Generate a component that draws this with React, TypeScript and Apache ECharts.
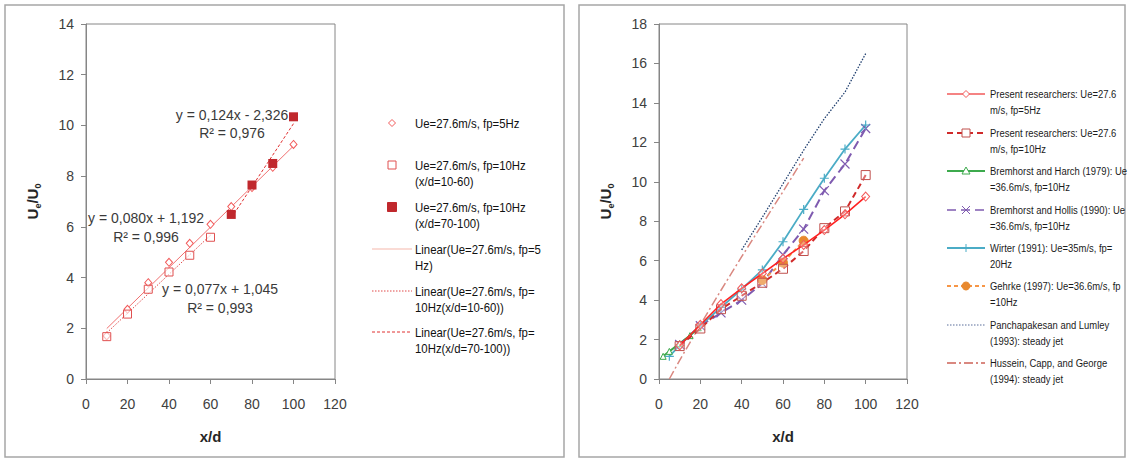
import React, { useEffect, useRef } from "react";
import * as echarts from "echarts";

// ---------- Left chart data ----------
const xd = [10, 20, 30, 40, 50, 60, 70, 80, 90, 100];
const fp5Values = [1.7, 2.75, 3.8, 4.6, 5.35, 6.1, 6.8, 7.55, 8.35, 9.25];
const fp10Low = [[10, 1.67], [20, 2.56], [30, 3.54], [40, 4.22], [50, 4.88], [60, 5.59]];
const fp10High = [[70, 6.49], [80, 7.65], [90, 8.5], [100, 10.34]];
const trend5 = [[10, 1.99], [100, 9.19]];
const trend10Low = [[10, 1.82], [60, 5.67]];
const trend10High = [[70, 6.35], [100, 10.07]];
const equations = [
  ["y = 0,124x - 2,326", "R² = 0,976"],
  ["y = 0,080x + 1,192", "R² = 0,996"],
  ["y = 0,077x + 1,045", "R² = 0,993"],
];
const leftLegendLabels = [
  "Ue=27.6m/s, fp=5Hz",
  "Ue=27.6m/s, fp=10Hz\n(x/d=10-60)",
  "Ue=27.6m/s, fp=10Hz\n(x/d=70-100)",
  "Linear(Ue=27.6m/s, fp=5\nHz)",
  "Linear(Ue=27.6m/s, fp=\n10Hz(x/d=10-60))",
  "Linear(Ue=27.6m/s, fp=\n10Hz(x/d=70-100))",
];

// ---------- Right chart data ----------
const present10 = [1.67, 2.56, 3.54, 4.22, 4.88, 5.59, 6.49, 7.65, 8.5, 10.34];
const bremHarch = [[2, 1.15], [5, 1.4], [10, 1.8], [15, 2.2], [19, 2.6]];
const bremHollis = [[10, 1.75], [20, 2.7], [30, 3.35], [40, 4.0], [50, 4.85], [60, 6.3], [70, 7.6], [80, 9.55], [90, 10.9], [100, 12.7]];
const wirter = [[5, 1.15], [10, 1.7], [20, 2.7], [30, 3.63], [40, 4.55], [50, 5.53], [60, 6.96], [70, 8.6], [80, 10.18], [90, 11.66], [100, 12.88]];
const gehrke = [[50, 5.02], [60, 5.9], [70, 7.01]];
const panchapakesan = [[40, 6.55], [50, 8.2], [60, 9.9], [70, 11.6], [80, 13.2], [90, 14.55], [100, 16.5]];
const hussein = [[5, 0], [10, 0.95], [20, 2.75], [30, 4.5], [40, 6.2], [50, 7.85], [60, 9.5], [70, 11.2]];
const rightLegendLabels = [
  "Present researchers: Ue=27.6\nm/s, fp=5Hz",
  "Present researchers: Ue=27.6\nm/s, fp=10Hz",
  "Bremhorst and Harch (1979): Ue\n=36.6m/s, fp=10Hz",
  "Bremhorst and Hollis (1990): Ue\n=36.6m/s, fp=10Hz",
  "Wirter (1991): Ue=35m/s, fp=\n20Hz",
  "Gehrke (1997): Ue=36.6m/s, fp\n=10Hz",
  "Panchapakesan and Lumley\n(1993): steady jet",
  "Hussein, Capp, and George\n(1994): steady jet",
];

const FONT = "'Liberation Sans', Arial, sans-serif";
const AXIS_GRAY = "#868686";
const LABEL_COLOR = "#404040";

const C = {
  red: "#FF2222",
  redMarker: "#F25A5A",
  darkRed: "#D02A2A",
  darkRedMarker: "#C0504D",
  green: "#3DAA4D",
  purple: "#7F5BB0",
  cyan: "#4BACC6",
  orange: "#F79646",
  orangeMarker: "#E8892E",
  navy: "#1F3E6E",
  rose: "#D98880",
};

const X_SYMBOL = "path://M0,0L10,10M10,0L0,10";
const PLUS_SYMBOL = "path://M5,0L5,10M0,5L10,5";

function xAxisCfg(gridIndex: number) {
  return {
    type: "value",
    gridIndex,
    min: 0,
    max: 120,
    interval: 20,
    name: "x/d",
    nameLocation: "middle",
    nameGap: 50,
    nameTextStyle: { fontFamily: FONT, fontSize: 15, fontWeight: "bold", color: "#262626" },
    axisLine: { show: true, onZero: false, lineStyle: { color: AXIS_GRAY } },
    axisTick: { show: true, length: 5, lineStyle: { color: AXIS_GRAY } },
    splitLine: { show: false },
    axisLabel: { color: LABEL_COLOR, fontFamily: FONT, fontSize: 14, margin: 18 },
  };
}

function yAxisCfg(gridIndex: number, max: number, gap: number) {
  return {
    type: "value",
    gridIndex,
    min: 0,
    max,
    interval: 2,
    name: "{u|U}{s|e}{u|/U}{s|0}",
    nameLocation: "middle",
    nameRotate: 90,
    nameGap: gap,
    nameTextStyle: {
      rich: {
        u: { fontFamily: FONT, fontSize: 15, fontWeight: "bold", color: "#262626", lineHeight: 20 },
        s: { fontFamily: FONT, fontSize: 9, fontWeight: "bold", color: "#262626", lineHeight: 20, verticalAlign: "bottom" },
      },
    },
    axisLine: { show: true, lineStyle: { color: AXIS_GRAY } },
    axisTick: { show: true, length: 5, lineStyle: { color: AXIS_GRAY } },
    splitLine: { show: false },
    axisLabel: { color: LABEL_COLOR, fontFamily: FONT, fontSize: 14, margin: 12 },
  };
}

function textEl(x: number, y: number, text: string, opts: any = {}) {
  return {
    type: "text",
    x,
    y,
    scaleX: opts.scaleX ?? 1,
    silent: true,
    style: {
      text,
      fill: opts.fill ?? "#262626",
      font: opts.font ?? `12px ${FONT}`,
      textAlign: opts.align ?? "left",
      textVerticalAlign: opts.vAlign ?? "top",
      lineHeight: opts.lineHeight ?? 16,
    },
  };
}

function lineEl(x1: number, y1: number, x2: number, y2: number, stroke: string, lineWidth: number, lineDash?: number[]) {
  return {
    type: "line",
    silent: true,
    shape: { x1, y1, x2, y2 },
    style: { stroke, lineWidth, lineDash: lineDash ?? null },
  };
}

function diamondEl(cx: number, cy: number, r: number, stroke: string) {
  return {
    type: "polygon",
    silent: true,
    shape: { points: [[cx, cy - r], [cx + r, cy], [cx, cy + r], [cx - r, cy]] },
    style: { fill: "#fff", stroke, lineWidth: 1 },
  };
}

function buildGraphic() {
  const g: any[] = [];
  // panel frames
  g.push({ type: "rect", silent: true, shape: { x: 5, y: 5, width: 559, height: 452 }, style: { fill: "none", stroke: "#A6A6A6", lineWidth: 1.5 } });
  g.push({ type: "rect", silent: true, shape: { x: 579, y: 5, width: 546, height: 452 }, style: { fill: "none", stroke: "#A6A6A6", lineWidth: 1.5 } });

  // equation labels (left)
  const eqPos = [[232, 115], [146, 218], [220, 289]];
  equations.forEach((eq, i) => {
    const [cx, cy] = eqPos[i];
    g.push(textEl(cx, cy, eq[0], { align: "center", vAlign: "middle", font: `14px ${FONT}`, fill: "#3a3a3a" }));
    g.push(textEl(cx, cy + (i === 0 ? 18 : 19), eq[1], { align: "center", vAlign: "middle", font: `14px ${FONT}`, fill: "#3a3a3a" }));
  });

  // left legend
  const lY = [123, 165, 207, 249, 291, 332];
  const mx = 392;
  g.push(diamondEl(mx, lY[0], 3.5, C.redMarker));
  g.push({ type: "rect", silent: true, shape: { x: mx - 4, y: lY[1] - 4, width: 8, height: 8 }, style: { fill: "#fff", stroke: "#E05050", lineWidth: 1 } });
  g.push({ type: "rect", silent: true, shape: { x: mx - 4.5, y: lY[2] - 4.5, width: 9, height: 9 }, style: { fill: "#C0282D", stroke: "#C0282D", lineWidth: 1 } });
  g.push(lineEl(372, lY[3], 412, lY[3], "#F6B8AC", 1.2));
  g.push(lineEl(372, lY[4], 412, lY[4], "#E04848", 1, [1.5, 1.5]));
  g.push(lineEl(372, lY[5], 412, lY[5], "#E03030", 1, [3, 2]));
  leftLegendLabels.forEach((t, i) => {
    g.push(textEl(415, lY[i] - 8, t, { font: `12px ${FONT}`, lineHeight: 16, fill: "#111", scaleX: 0.95 }));
  });

  // right legend
  const rY = [94, 133, 171, 210, 248, 286, 325, 363];
  const x1 = 947, x2 = 985, cx = 966;
  g.push(lineEl(x1, rY[0], x2, rY[0], "#F25A5A", 1.5));
  g.push(diamondEl(cx, rY[0], 3.5, C.redMarker));
  g.push(lineEl(x1, rY[1], x2, rY[1], C.darkRed, 2, [6, 4]));
  g.push({ type: "rect", silent: true, shape: { x: cx - 4, y: rY[1] - 4, width: 8, height: 8 }, style: { fill: "#fff", stroke: C.darkRedMarker, lineWidth: 1 } });
  g.push(lineEl(x1, rY[2], x2, rY[2], C.green, 2));
  g.push({ type: "polygon", silent: true, shape: { points: [[cx, rY[2] - 4], [cx + 4, rY[2] + 3], [cx - 4, rY[2] + 3]] }, style: { fill: "#fff", stroke: C.green, lineWidth: 1 } });
  g.push(lineEl(x1, rY[3], x2, rY[3], C.purple, 1.5, [9, 5]));
  g.push(lineEl(cx - 4, rY[3] - 4, cx + 4, rY[3] + 4, C.purple, 1));
  g.push(lineEl(cx - 4, rY[3] + 4, cx + 4, rY[3] - 4, C.purple, 1));
  g.push(lineEl(x1, rY[4], x2, rY[4], C.cyan, 1.8));
  g.push(lineEl(cx, rY[4] - 4, cx, rY[4] + 4, C.cyan, 1));
  g.push(lineEl(x1, rY[5], x2, rY[5], C.orange, 2, [4, 3]));
  g.push({ type: "circle", silent: true, shape: { cx, cy: rY[5], r: 4 }, style: { fill: C.orangeMarker, stroke: C.orangeMarker } });
  g.push(lineEl(x1, rY[6], x2, rY[6], "#5A6E9A", 1.2, [1.5, 1.5]));
  g.push(lineEl(x1, rY[7], x2, rY[7], C.rose, 1.8, [9, 3, 2, 3]));
  rightLegendLabels.forEach((t, i) => {
    g.push(textEl(990, rY[i] - 8, t, { font: `11px ${FONT}`, lineHeight: 16, fill: "#1a1a1a", scaleX: 0.86 }));
  });
  return g;
}

function buildOption() {
  const pts5 = xd.map((x, i) => [x, fp5Values[i]]);
  const pts10 = xd.map((x, i) => [x, present10[i]]);
  return {
    animation: false,
    backgroundColor: "#fff",
    textStyle: { fontFamily: FONT },
    grid: [
      { left: 86, top: 24, width: 249, height: 355, show: true, borderColor: AXIS_GRAY, borderWidth: 1, backgroundColor: "transparent" },
      { left: 659, top: 24, width: 248, height: 355, show: true, borderColor: AXIS_GRAY, borderWidth: 1, backgroundColor: "transparent" },
    ],
    xAxis: [xAxisCfg(0), xAxisCfg(1)],
    yAxis: [yAxisCfg(0, 14, 44), yAxisCfg(1, 18, 44)],
    series: [
      // ----- left -----
      { name: "Linear fp=5Hz", type: "line", xAxisIndex: 0, yAxisIndex: 0, data: trend5, showSymbol: false, lineStyle: { color: "#F07070", width: 1 }, z: 1 },
      { name: "Linear fp=10Hz (10-60)", type: "line", xAxisIndex: 0, yAxisIndex: 0, data: trend10Low, showSymbol: false, lineStyle: { color: "#E04848", width: 1, type: [1.5, 1.5] }, z: 1 },
      { name: "Linear fp=10Hz (70-100)", type: "line", xAxisIndex: 0, yAxisIndex: 0, data: trend10High, showSymbol: false, lineStyle: { color: "#E03030", width: 1, type: [3, 2] }, z: 1 },
      { name: leftLegendLabels[0], type: "scatter", xAxisIndex: 0, yAxisIndex: 0, data: pts5, symbol: "diamond", symbolSize: [7, 8], itemStyle: { color: "#fff", borderColor: C.redMarker, borderWidth: 1, opacity: 1 }, z: 3 },
      { name: leftLegendLabels[1], type: "scatter", xAxisIndex: 0, yAxisIndex: 0, data: fp10Low, symbol: "rect", symbolSize: 8, itemStyle: { color: "rgba(255,255,255,0.6)", borderColor: "#E05050", borderWidth: 1, opacity: 1 }, z: 3 },
      { name: leftLegendLabels[2], type: "scatter", xAxisIndex: 0, yAxisIndex: 0, data: fp10High, symbol: "rect", symbolSize: 9, itemStyle: { color: "#C0282D", opacity: 1 }, z: 3 },
      // ----- right -----
      { name: "Hussein", type: "line", xAxisIndex: 1, yAxisIndex: 1, data: hussein, showSymbol: false, lineStyle: { color: C.rose, width: 1.5, type: [9, 3, 2, 3] }, z: 2 },
      { name: "Panchapakesan", type: "line", xAxisIndex: 1, yAxisIndex: 1, data: panchapakesan, showSymbol: false, lineStyle: { color: C.navy, width: 1.3, type: [1.5, 1.5] }, z: 2 },
      { name: "Bremhorst Hollis", type: "line", xAxisIndex: 1, yAxisIndex: 1, data: bremHollis, symbol: X_SYMBOL, symbolSize: 9, lineStyle: { color: C.purple, width: 2, type: [9, 5] }, itemStyle: { color: "none", borderColor: C.purple, borderWidth: 1.2 }, z: 3 },
      { name: "Wirter", type: "line", xAxisIndex: 1, yAxisIndex: 1, data: wirter, symbol: PLUS_SYMBOL, symbolSize: 9, lineStyle: { color: C.cyan, width: 1.8 }, itemStyle: { color: "none", borderColor: C.cyan, borderWidth: 1.2 }, z: 3 },
      { name: "Bremhorst Harch", type: "line", xAxisIndex: 1, yAxisIndex: 1, data: bremHarch, symbol: "triangle", symbolSize: 6, lineStyle: { color: C.green, width: 2 }, itemStyle: { color: "#fff", borderColor: C.green, borderWidth: 1 }, z: 3 },
      { name: "Gehrke", type: "line", xAxisIndex: 1, yAxisIndex: 1, data: gehrke, symbol: "circle", symbolSize: 9, lineStyle: { color: C.orange, width: 2, type: [4, 3] }, itemStyle: { color: C.orangeMarker, borderColor: C.orangeMarker }, z: 4 },
      { name: "Present 10Hz", type: "line", xAxisIndex: 1, yAxisIndex: 1, data: pts10, symbol: "rect", symbolSize: 9, lineStyle: { color: C.darkRed, width: 2, type: [6, 4] }, itemStyle: { color: "rgba(255,255,255,0.3)", borderColor: C.darkRedMarker, borderWidth: 1 }, z: 4 },
      { name: "Present 5Hz", type: "line", xAxisIndex: 1, yAxisIndex: 1, data: pts5, symbol: "diamond", symbolSize: [8, 9], lineStyle: { color: C.red, width: 1.6 }, itemStyle: { color: "rgba(255,255,255,0.3)", borderColor: C.redMarker, borderWidth: 1 }, z: 5 },
    ],
    graphic: buildGraphic(),
  };
}

export default function App() {
  const ref = useRef<HTMLDivElement>(null);
  useEffect(() => {
    if (!ref.current) return;
    const chart = echarts.init(ref.current, undefined, { renderer: "svg" });
    chart.setOption(buildOption() as any);
    return () => chart.dispose();
  }, []);
  return (
    <div
      ref={ref}
      style={{ position: "absolute", left: 0, top: 0, width: 1129, height: 460, background: "#fff" }}
    />
  );
}
